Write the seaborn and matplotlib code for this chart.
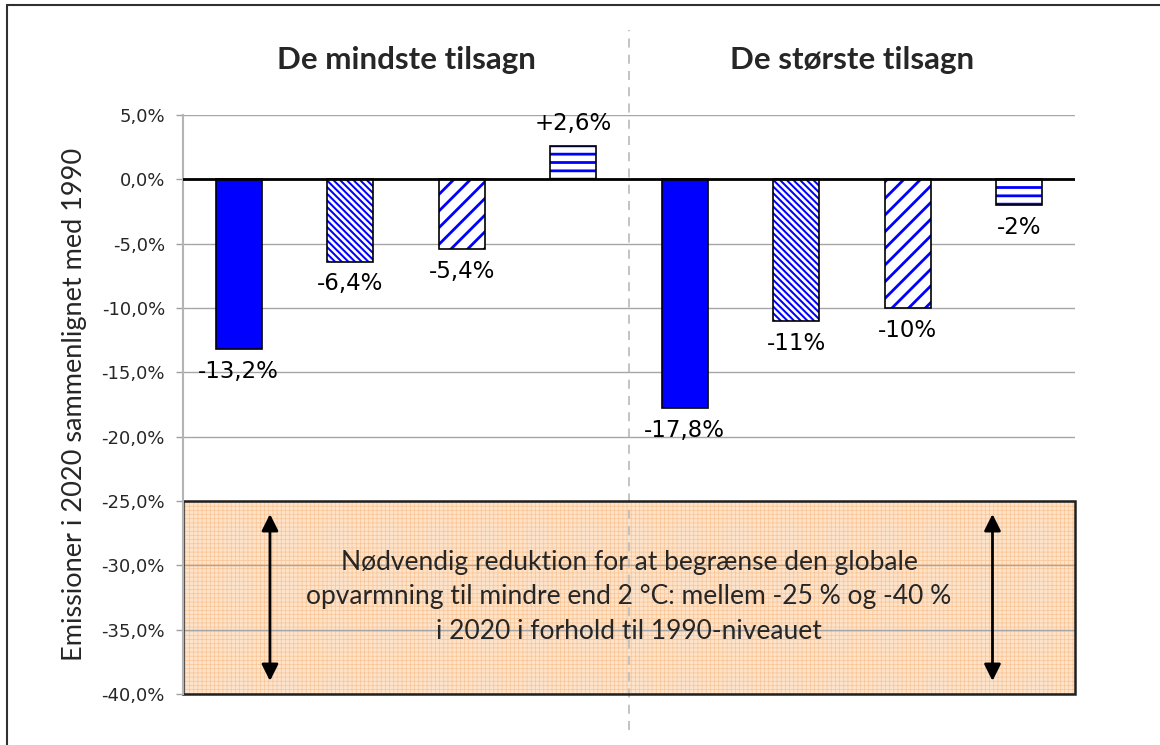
"""Emission pledges for 2020 versus 1990, smallest and largest pledges."""

import matplotlib

matplotlib.use("Agg")

import matplotlib.pyplot as plt
import pandas as pd
import seaborn as sns
from matplotlib.lines import Line2D
from matplotlib.ticker import FuncFormatter

# Data
groups = ["De mindste tilsagn", "De største tilsagn"]
bar_ids = ["m1", "m2", "m3", "m4", "s1", "s2", "s3", "s4"]
values = [-13.2, -6.4, -5.4, 2.6, -17.8, -11.0, -10.0, -2.0]
value_labels = ["-13,2%", "-6,4%", "-5,4%", "+2,6%", "-17,8%", "-11%", "-10%", "-2%"]
y_ticks = [5, 0, -5, -10, -15, -20, -25, -30, -35, -40]
target_low, target_high = -40.0, -25.0
arrow_span = (-25.8, -39.2)
box_text = (
    "Nødvendig reduktion for at begrænse den globale\n"
    "opvarmning til mindre end 2 °C: mellem -25 % og -40 %\n"
    "i 2020 i forhold til 1990-niveauet"
)
y_label = "Emissioner i 2020 sammenlignet med 1990"

BLUE = "#0000FF"
HATCHES = ["", "\\" * 5, "//", "--"]

sns.set_style("white")
plt.rcParams["font.family"] = ["DejaVu Sans"]
plt.rcParams["hatch.linewidth"] = 1.6

df = pd.DataFrame({"bar": bar_ids, "value": values})

fig = plt.figure(figsize=(11.6, 7.45), dpi=100)
ax = fig.add_axes([183 / 1160, 1 - 694 / 745, 892 / 1160, 579 / 745])

sns.barplot(
    data=df,
    x="bar",
    y="value",
    order=bar_ids,
    color=BLUE,
    saturation=1,
    width=0.41,
    errorbar=None,
    ax=ax,
    zorder=2,
)

for i, patch in enumerate(ax.patches):
    hatch = HATCHES[i % 4]
    if not hatch:
        patch.set_facecolor(BLUE)
        patch.set_edgecolor("black")
        patch.set_linewidth(1.2)
        continue
    patch.set_facecolor("white")
    patch.set_edgecolor(BLUE)
    patch.set_hatch(hatch)
    patch.set_linewidth(0)
    if hasattr(patch, "set_hatch_linewidth"):
        patch.set_hatch_linewidth(1.45 if i % 4 == 1 else 2.0)
    outline = plt.Rectangle(
        patch.get_xy(),
        patch.get_width(),
        patch.get_height(),
        fill=False,
        edgecolor="black",
        linewidth=1.2,
        zorder=3,
    )
    ax.add_patch(outline)

# value labels
for patch, val, lab in zip(ax.patches[:8], values, value_labels):
    cx = patch.get_x() + patch.get_width() / 2
    ax.annotate(
        lab,
        xy=(cx, val),
        xytext=(0, 16 if val > 0 else -16),
        textcoords="offset points",
        ha="center",
        va="center",
        fontsize=16.5,
        color="black",
    )

ax.set_xlim(-0.5, len(bar_ids) - 0.5)
ax.set_ylim(target_low, 5)

# target band with a fine grid pattern
band = ax.axhspan(
    target_low,
    target_high,
    facecolor="#FDE3CA",
    edgecolor="#F9C494",
    hatch="++++",
    linewidth=0,
    zorder=0.2,
)
if hasattr(band, "set_hatch_linewidth"):
    band.set_hatch_linewidth(0.5)
ax.axhspan(target_low, target_high, fill=False, edgecolor="#202020", linewidth=1.8,
           zorder=1.5, clip_on=False)

mid_x = (len(bar_ids) - 1) / 2
for ax_x in (0.28, 6.76):
    ax.annotate(
        "",
        xy=(ax_x, arrow_span[0]),
        xytext=(ax_x, arrow_span[1]),
        arrowprops=dict(arrowstyle="<|-|>", color="black", lw=2, mutation_scale=25),
        zorder=4,
    )
ax.text(
    mid_x,
    -32.46,
    box_text,
    ha="center",
    va="center",
    fontsize=19,
    family=["Lato", "DejaVu Sans"],
    linespacing=1.48,
    zorder=4,
)

# axes styling
ax.set_yticks(y_ticks)
ax.yaxis.set_major_formatter(FuncFormatter(lambda v, _: f"{v:.1f}%".replace(".", ",")))
ax.tick_params(axis="y", labelsize=13, length=5, width=1, color="#A0A0A0", pad=8, left=True)
ax.tick_params(axis="x", bottom=False, labelbottom=False)
ax.set_xlabel("")
ax.set_ylabel(y_label, fontsize=19.5, family=["Lato", "DejaVu Sans"], labelpad=10)
ax.yaxis.grid(True, color="#A6A6A6", linewidth=1)
ax.set_axisbelow(True)
for side in ("top", "right", "bottom"):
    ax.spines[side].set_visible(False)
ax.spines["left"].set_color("#B4B4B4")
ax.spines["left"].set_linewidth(1.5)
ax.axhline(0, color="black", linewidth=2, zorder=4)

# separator between the two groups
ax.axvline(mid_x, ymin=-0.062, ymax=1.147, color="#BEBEBE", linewidth=1.3,
           linestyle=(0, (5, 4)), clip_on=False, zorder=0.4)

for gi, name in enumerate(groups):
    ax.text(
        1.5 + 4 * gi,
        5 + (115 - 60) / 12.87,
        name,
        ha="center",
        va="center",
        fontsize=22.5,
        fontweight="bold",
        family=["Lato", "DejaVu Sans"],
    )

# outer frame (left and top edges visible in the crop)
fig.add_artist(Line2D([7 / 1160, 7 / 1160], [0, 1 - 5 / 745], color="#303030", lw=1.5))
fig.add_artist(Line2D([7 / 1160, 1], [1 - 5 / 745, 1 - 5 / 745], color="#303030", lw=1.5))

fig.savefig("out.png", dpi=100)
plt.close(fig)
